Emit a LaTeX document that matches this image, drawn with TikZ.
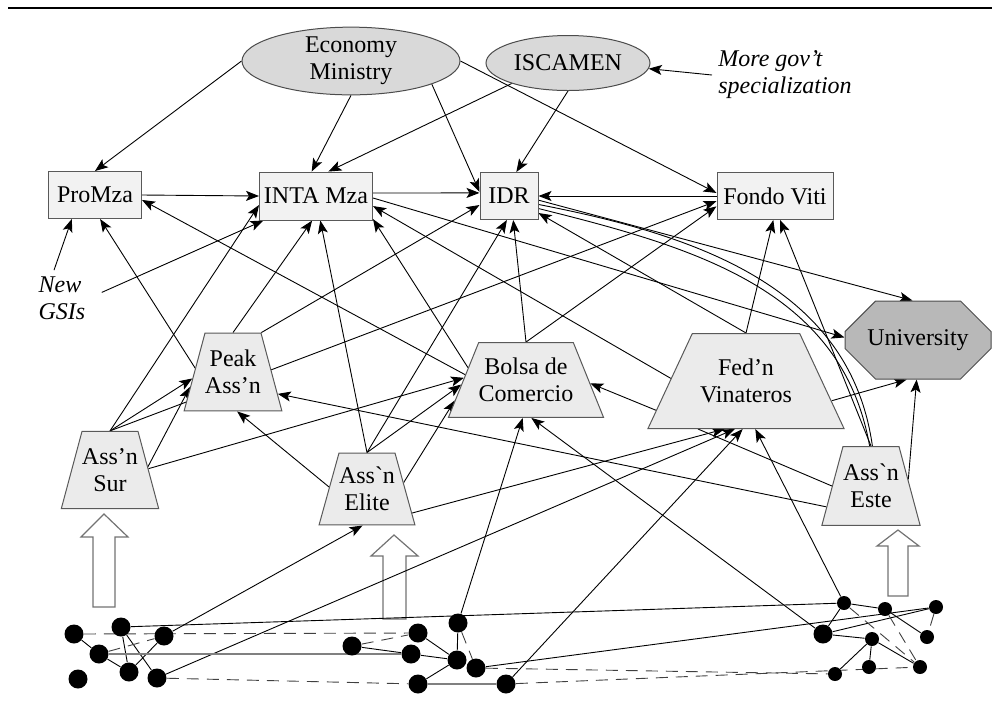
\documentclass[tikz,border=0pt]{standalone}
\usepackage{fontspec}
\setmainfont{Liberation Serif}
\usetikzlibrary{shapes.geometric,shapes.misc,arrows.meta,backgrounds}
\begin{document}
\begin{tikzpicture}[x=0.5pt,y=-0.5pt,
    every node/.style={font=\fontsize{12}{13.5}\selectfont},
    box/.style={draw=black!65,fill=black!5,line width=0.5pt,inner sep=0pt},
    agency/.style={ellipse,draw=black!70,fill=black!15,line width=0.5pt,inner sep=0pt,align=center},
    assoc/.style={trapezium,trapezium stretches body,draw=black!65,fill=black!8,line width=0.5pt,align=center,inner xsep=0pt},
    note/.style={font=\fontsize{12}{13.5}\selectfont\itshape,align=left},
    dot/.style={circle,fill=black,inner sep=0pt,minimum size=9.5pt},
    sdot/.style={dot,minimum size=7pt},
    arr/.style={-{Stealth[length=6.5pt,width=5pt,inset=1.5pt]},line width=0.45pt},
    tie/.style={line width=0.45pt},
    dashtie/.style={dash pattern=on 6pt off 4pt,line width=0.45pt,black!75},
    graytie/.style={black!50,line width=0.8pt},
    bigarrow/.style={draw=black!55,fill=white,line width=0.6pt}]
  \useasboundingbox (0,0) rectangle (992,714);
  \draw[line width=0.7pt] (8,8) -- (992,8);

  \node[agency,minimum width=109pt,minimum height=29.5pt] (econ) at (351,61) {Economy\\Ministry};
  \node[agency,minimum width=82pt,minimum height=27.5pt] (iscamen) at (568,63) {ISCAMEN};
  \node[note,anchor=west,inner sep=3pt] (more) at (712,75) {More gov't\\specialization};

  \node[box,minimum width=46.5pt,minimum height=23.5pt] (promza) at (95,195) {ProMza};
  \node[box,minimum width=56.5pt,minimum height=24pt] (inta) at (316,196) {INTA Mza};
  \node[box,minimum width=29pt,minimum height=23.5pt] (idr) at (509,196) {IDR};
  \node[box,minimum width=58pt,minimum height=23.5pt] (fondo) at (775,196) {Fondo Viti};
  \node[chamfered rectangle,chamfered rectangle xsep=11.75pt,chamfered rectangle ysep=10pt,
        draw=black!70,fill=black!28,line width=0.5pt,minimum width=73pt,minimum height=39pt,inner sep=0pt] (univ) at (918,340) {University};
  \node[note,inner xsep=8pt,inner ysep=3pt] (gsi) at (62,298) {New\\GSIs};

  \node[assoc,trapezium angle=75,minimum width=46pt,inner ysep=8.5pt] (peak) at (233,372) {Peak\\Ass'n};
  \node[assoc,trapezium angle=75,minimum width=46.5pt,inner ysep=8.5pt] (sur) at (110,470) {Ass'n\\Sur};
  \node[assoc,trapezium angle=74.5,minimum width=46pt,inner ysep=7pt] (elite) at (367,489) {Ass\textasciigrave{}n\\Elite};
  \node[assoc,trapezium angle=68,minimum width=77pt,inner ysep=7.75pt] (bolsa) at (526,380) {Bolsa de\\Comercio};
  \node[assoc,trapezium angle=65,minimum width=98pt,inner ysep=12.75pt] (fedn) at (746,381) {Fed'n\\Vinateros};
  \node[assoc,trapezium angle=75,minimum width=48pt,inner ysep=8.75pt] (este) at (871,486) {Ass\textasciigrave{}n\\Este};

  \node[dot] (l1) at (74,634) {};
  \node[dot] (l2) at (121,627) {};
  \node[dot] (l3) at (164,636) {};
  \node[dot] (l4) at (99,654) {};
  \node[dot] (l5) at (129,672) {};
  \node[dot] (l6) at (157,678) {};
  \node[dot] (l7) at (78,679) {};

  \node[dot] (ma) at (352,646) {};
  \node[dot] (mb) at (418,633) {};
  \node[dot] (mc) at (411,654) {};
  \node[dot] (md) at (458,623) {};
  \node[dot] (me) at (457,660) {};
  \node[dot] (mf) at (476,668) {};
  \node[dot] (mg) at (418,684) {};
  \node[dot] (mh) at (506,684) {};

  \node[sdot] (ra) at (844,603) {};
  \node[sdot] (rb) at (885,609) {};
  \node[sdot] (rc) at (936,607) {};
  \node[dot] (rd) at (823,634) {};
  \node[sdot] (re) at (872,639) {};
  \node[sdot] (rf) at (927,637) {};
  \node[sdot] (rg) at (835,674) {};
  \node[sdot] (rh) at (869,667) {};
  \node[sdot] (ri) at (920,667) {};

  \begin{scope}[on background layer]
    \draw[bigarrow] (93,607) -- (93,537) -- (81,537) -- (104,514) -- (128,537) -- (115,537) -- (115,607) -- cycle;
    \draw[bigarrow] (383,619) -- (383,556) -- (371,556) -- (394,535) -- (418,556) -- (406,556) -- (406,619) -- cycle;
    \draw[bigarrow] (888,596) -- (888,546) -- (877,546) -- (898,530) -- (919,546) -- (908,546) -- (908,596) -- cycle;

    \draw[arr] (econ.west) -- (promza.north);
    \draw[arr] (econ.south) -- (inta.100);
    \draw[arr] (econ.-16) -- (idr.172);
    \draw[arr] (econ.east) -- (fondo.177);
    \draw[arr] (iscamen.200) -- (inta.63);
    \draw[arr] (iscamen.south) -- (idr.73);
    \draw[arr] (more.west) -- (iscamen.-4);
    \draw[arr] (promza.east) -- (inta.west);
    \draw[arr] (inta.3) -- (idr.174);
    \draw[arr] (fondo.west) -- (idr.east);
    \draw[arr] (inta.-2) -- (univ.178);
    \draw[arr] (idr.-8) -- (univ.98);
    \draw[arr] (gsi.106) -- (promza.226);
    \draw[arr] (gsi.8) -- (inta.205);

    \draw[arr] (sur.north) -- (inta.189);
    \draw[arr] (sur.north) -- (peak.189);
    \draw[arr] (sur.5) -- (peak.199);
    \draw[arr] (sur.north) -- (fondo.185);
    \draw[arr] (sur.2) -- (bolsa.178);

    \draw[arr] (peak.north) -- (inta.261);
    \draw[arr] (peak.174) -- (promza.282);
    \draw[arr] (peak.top right corner) -- (idr.197);

    \draw[arr] (elite.177) -- (peak.276);
    \draw[arr] (elite.north) -- (inta.280);
    \draw[arr] (elite.north) -- (idr.265);
    \draw[arr] (elite.north) -- (bolsa.184);
    \draw[arr] (elite.10) -- (bolsa.196);
    \draw[arr] (elite.-28) -- (fedn.246);

    \draw[arr] (bolsa.north) -- (idr.280);
    \draw[arr] (bolsa.north) -- (fondo.190);
    \draw[arr] (bolsa.175) -- (promza.-6);
    \draw[arr] (bolsa.168) -- (inta.-22);

    \draw[arr] (fedn.north) -- (fondo.266);
    \draw[arr] (fedn.north) -- (idr.-30);
    \draw[arr] (fedn.198) -- (bolsa.-3);
    \draw[arr] (fedn.178) -- (inta.-10);
    \draw[arr] (fedn.-13) -- (univ.254);

    \draw[arr] (este.north) -- (fondo.282);
    \draw[arr] (este.10) -- (univ.268);
    \draw[arr] (este.205) -- (peak.-26);
    \draw[tie] (este.180) -- (fedn.225);
    \draw[tie] (este.88) to[out=98,in=-11] (idr.-16);
    \draw[tie] (este.92) to[out=100,in=-14] (idr.-23);

    \draw[arr] (l3) -- (elite.263);
    \draw[arr] (l6) -- (fedn.257);
    \draw[arr] (mh) -- (fedn.266);
    \draw[arr] (ra) -- (fedn.281);
    \draw[arr] (md) -- (bolsa.265);
    \draw[arr] (rd) -- (bolsa.278);

    \draw[tie] (l1) -- (l4) -- (l5) -- (l3);
    \draw[tie] (l2) -- (l5);
    \draw[tie] (l2) -- (l6);
    \draw[dashtie] (l4) -- (l3);
    \draw[dashtie] (l1) -- (mb);
    \draw[graytie] (l4) -- (mc);
    \draw[dashtie] (l6) -- (mg);
    \draw[tie] (l2) -- (ra);

    \draw[tie] (ma) -- (mc) -- (me);
    \draw[dashtie] (ma) -- (mb);
    \draw[tie] (mb) -- (me);
    \draw[tie] (md) -- (me) -- (mg);
    \draw[graytie] (mg) -- (mh);
    \draw[dashtie] (md) -- (mf);
    \draw[tie] (mf) -- (rc);
    \draw[dashtie] (mf) -- (rg);
    \draw[dashtie] (mh) -- (ri);

    \draw[tie] (rb) -- (ra) -- (rd) -- (rc);
    \draw[tie] (rd) -- (re);
    \draw[tie] (rb) -- (rf);
    \draw[tie] (rg) -- (re) -- (rh);
    \draw[tie] (re) -- (ri);
    \draw[dashtie] (ra) -- (ri);
    \draw[dashtie] (rb) -- (ri);
    \draw[dashtie] (rc) -- (rf);
  \end{scope}
\end{tikzpicture}
\end{document}
